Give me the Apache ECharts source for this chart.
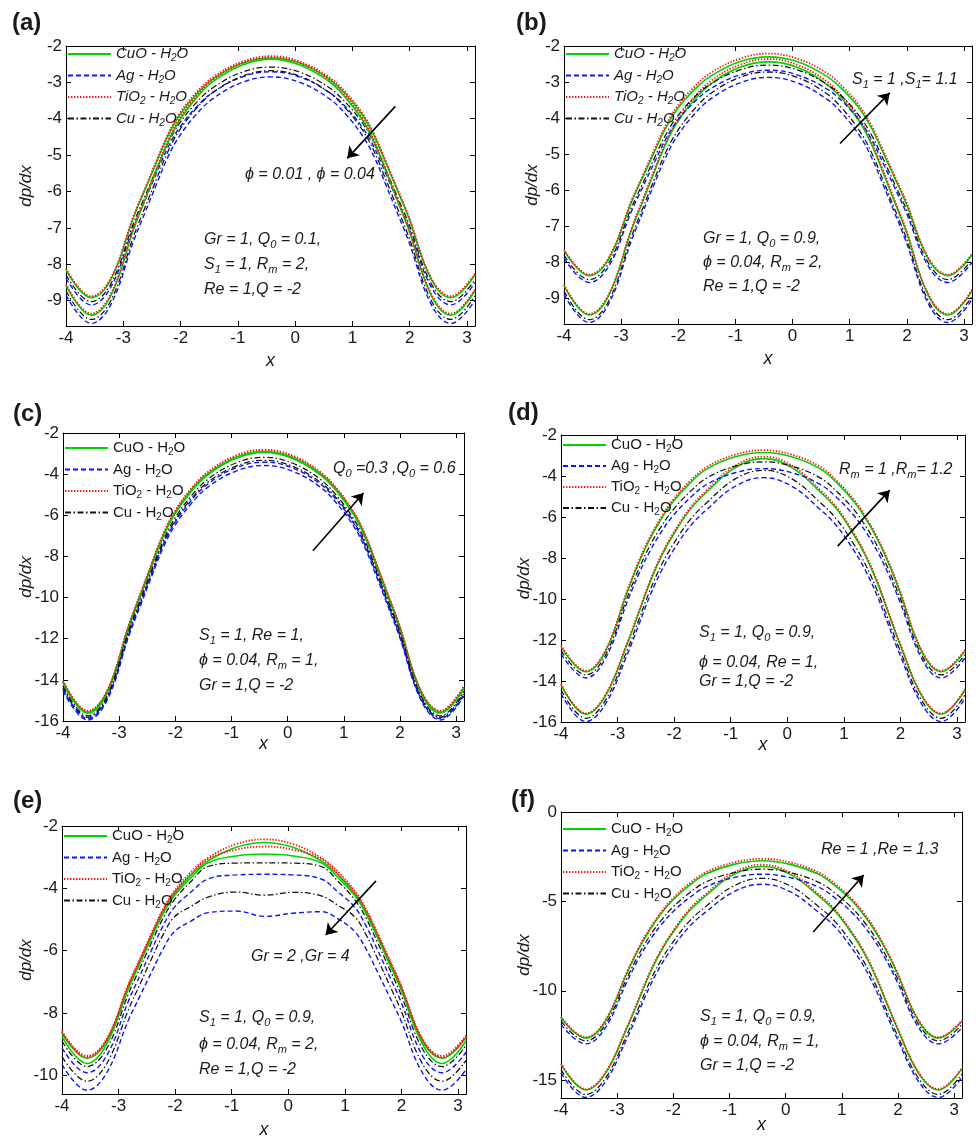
<!DOCTYPE html>
<html><head><meta charset="utf-8">
<script src="https://cdn.jsdelivr.net/npm/echarts@6/dist/echarts.min.js"></script>
<style>html,body{margin:0;padding:0;background:#fff}#c{width:976px;height:1140px}</style>
</head><body><div id="c"></div>
<script>
// ---------- x sample positions (shared by all panels) ----------
const xs = [-4, -3.56, -3.22, -2.82, -2.62, -2.42, -2.22, -2.02, -1.72, -1.42, -0.92, -0.42, 0.08, 0.58, 0.88, 1.18, 1.38, 1.58, 1.78, 1.98, 2.38, 2.72, 3.14];

// ---------- panel (a) ----------
const aCuO1  = [-8.16, -8.92, -8.43, -6.71, -5.95, -5.20, -4.47, -3.91, -3.32, -2.89, -2.47, -2.33, -2.47, -2.89, -3.32, -3.91, -4.47, -5.20, -5.95, -6.71, -8.43, -8.92, -8.29];
const aAg1   = [-8.38, -9.12, -8.64, -6.97, -6.24, -5.50, -4.79, -4.25, -3.67, -3.26, -2.85, -2.71, -2.85, -3.26, -3.67, -4.25, -4.79, -5.50, -6.24, -6.97, -8.64, -9.12, -8.51];
const aTiO21 = [-8.12, -8.88, -8.39, -6.67, -5.91, -5.15, -4.43, -3.86, -3.27, -2.84, -2.43, -2.28, -2.43, -2.84, -3.27, -3.86, -4.43, -5.15, -5.91, -6.67, -8.39, -8.88, -8.25];
const aCu1   = [-8.29, -9.03, -8.55, -6.87, -6.13, -5.39, -4.68, -4.13, -3.55, -3.13, -2.72, -2.58, -2.72, -3.13, -3.55, -4.13, -4.68, -5.39, -6.13, -6.87, -8.55, -9.03, -8.42];
const aCuO2  = [-8.59, -9.40, -8.87, -7.04, -6.23, -5.42, -4.65, -4.05, -3.42, -2.96, -2.52, -2.36, -2.52, -2.96, -3.42, -4.05, -4.65, -5.42, -6.23, -7.04, -8.87, -9.40, -8.73];
const aAg2   = [-8.85, -9.63, -9.12, -7.36, -6.58, -5.80, -5.05, -4.48, -3.87, -3.43, -3.00, -2.85, -3.00, -3.43, -3.87, -4.48, -5.05, -5.80, -6.58, -7.36, -9.12, -9.63, -8.99];
const aTiO22 = [-8.55, -9.36, -8.83, -7.00, -6.19, -5.38, -4.60, -4.00, -3.37, -2.91, -2.47, -2.31, -2.47, -2.91, -3.37, -4.00, -4.60, -5.38, -6.19, -7.00, -8.83, -9.36, -8.69];
const aCu2   = [-8.73, -9.52, -9.01, -7.23, -6.44, -5.66, -4.90, -4.32, -3.71, -3.26, -2.83, -2.68, -2.83, -3.26, -3.71, -4.32, -4.90, -5.66, -6.44, -7.23, -9.01, -9.52, -8.87];

// ---------- panel (b) ----------
const bCuO1  = [-8.64, -9.45, -8.92, -7.10, -6.30, -5.49, -4.72, -4.12, -3.49, -3.04, -2.59, -2.44, -2.59, -3.04, -3.49, -4.12, -4.72, -5.49, -6.30, -7.10, -8.92, -9.45, -8.78];
const bAg1   = [-8.88, -9.66, -9.15, -7.39, -6.60, -5.82, -5.08, -4.50, -3.89, -3.45, -3.02, -2.87, -3.02, -3.45, -3.89, -4.50, -5.08, -5.82, -6.60, -7.39, -9.15, -9.66, -9.02];
const bTiO21 = [-8.61, -9.42, -8.89, -7.06, -6.24, -5.43, -4.65, -4.05, -3.42, -2.96, -2.52, -2.36, -2.52, -2.96, -3.42, -4.05, -4.65, -5.43, -6.24, -7.06, -8.89, -9.42, -8.75];
const bCu1   = [-8.79, -9.58, -9.07, -7.28, -6.49, -5.70, -4.95, -4.37, -3.75, -3.30, -2.87, -2.72, -2.87, -3.30, -3.75, -4.37, -4.95, -5.70, -6.49, -7.28, -9.07, -9.58, -8.93];
const bCuO2  = [-7.66, -8.36, -7.91, -6.33, -5.63, -4.94, -4.27, -3.75, -3.21, -2.82, -2.43, -2.30, -2.43, -2.82, -3.21, -3.75, -4.27, -4.94, -5.63, -6.33, -7.91, -8.36, -7.78];
const bAg2   = [-7.87, -8.55, -8.11, -6.58, -5.90, -5.23, -4.58, -4.08, -3.55, -3.17, -2.80, -2.67, -2.80, -3.17, -3.55, -4.08, -4.58, -5.23, -5.90, -6.58, -8.11, -8.55, -7.99];
const bTiO22 = [-7.63, -8.33, -7.87, -6.28, -5.58, -4.87, -4.20, -3.68, -3.13, -2.73, -2.35, -2.21, -2.35, -2.73, -3.13, -3.68, -4.20, -4.87, -5.58, -6.28, -7.87, -8.33, -7.75];
const bCu2   = [-7.79, -8.47, -8.02, -6.48, -5.80, -5.11, -4.46, -3.96, -3.42, -3.04, -2.66, -2.53, -2.66, -3.04, -3.42, -3.96, -4.46, -5.11, -5.80, -6.48, -8.02, -8.47, -7.91];

// ---------- panel (c) ----------
const cCuO1  = [-14.16, -15.62, -14.67, -11.38, -9.92, -8.46, -7.07, -5.99, -4.85, -4.03, -3.23, -2.95, -3.23, -4.03, -4.85, -5.99, -7.07, -8.46, -9.92, -11.38, -14.67, -15.62, -14.42];
const cAg1   = [-14.53, -15.95, -15.02, -11.81, -10.38, -8.96, -7.60, -6.55, -5.44, -4.63, -3.85, -3.58, -3.85, -4.63, -5.44, -6.55, -7.60, -8.96, -10.38, -11.81, -15.02, -15.95, -14.78];
const cTiO21 = [-14.09, -15.55, -14.60, -11.31, -9.85, -8.39, -7.00, -5.92, -4.78, -3.96, -3.16, -2.88, -3.16, -3.96, -4.78, -5.92, -7.00, -8.39, -9.85, -11.31, -14.60, -15.55, -14.35];
const cCu1   = [-14.38, -15.82, -14.88, -11.64, -10.20, -8.76, -7.39, -6.33, -5.20, -4.39, -3.61, -3.33, -3.61, -4.39, -5.20, -6.33, -7.39, -8.76, -10.20, -11.64, -14.88, -15.82, -14.63];
const cCuO2  = [-14.11, -15.57, -14.62, -11.33, -9.87, -8.41, -7.02, -5.94, -4.80, -3.98, -3.18, -2.90, -3.18, -3.98, -4.80, -5.94, -7.02, -8.41, -9.87, -11.33, -14.62, -15.57, -14.37];
const cAg2   = [-14.45, -15.88, -14.95, -11.71, -10.27, -8.84, -7.47, -6.41, -5.29, -4.48, -3.69, -3.42, -3.69, -4.48, -5.29, -6.41, -7.47, -8.84, -10.27, -11.71, -14.95, -15.88, -14.70];
const cTiO22 = [-14.04, -15.50, -14.55, -11.25, -9.79, -8.33, -6.93, -5.86, -4.71, -3.89, -3.09, -2.81, -3.09, -3.89, -4.71, -5.86, -6.93, -8.33, -9.79, -11.25, -14.55, -15.50, -14.29];
const cCu2   = [-14.30, -15.75, -14.81, -11.54, -10.09, -8.65, -7.27, -6.20, -5.07, -4.25, -3.46, -3.18, -3.46, -4.25, -5.07, -6.20, -7.27, -8.65, -10.09, -11.54, -14.81, -15.75, -14.56];

// ---------- panel (d) ----------
const dCuO1  = [-14.19, -15.62, -14.75, -12.13, -10.63, -9.14, -7.89, -6.89, -5.64, -4.77, -3.59, -3.15, -3.59, -4.77, -5.64, -6.89, -7.89, -9.14, -10.63, -12.13, -14.75, -15.62, -14.44];
const dAg1   = [-14.61, -15.98, -15.15, -12.65, -11.22, -9.79, -8.60, -7.65, -6.46, -5.63, -4.50, -4.08, -4.50, -5.63, -6.46, -7.65, -8.60, -9.79, -11.22, -12.65, -15.15, -15.98, -14.85];
const dTiO21 = [-14.14, -15.58, -14.70, -12.07, -10.57, -9.06, -7.81, -6.81, -5.56, -4.68, -3.49, -3.05, -3.49, -4.68, -5.56, -6.81, -7.81, -9.06, -10.57, -12.07, -14.70, -15.58, -14.39];
const dCu1   = [-14.43, -15.82, -14.97, -12.43, -10.98, -9.53, -8.32, -7.35, -6.14, -5.29, -4.14, -3.72, -4.14, -5.29, -6.14, -7.35, -8.32, -9.53, -10.98, -12.43, -14.97, -15.82, -14.67];
const dCuO2  = [-12.32, -13.55, -12.59, -9.59, -8.20, -7.02, -6.06, -5.26, -4.35, -3.65, -3.06, -2.85, -3.06, -3.65, -4.35, -5.26, -6.06, -7.02, -8.20, -9.59, -12.59, -13.55, -12.53];
const dAg2   = [-12.68, -13.85, -12.93, -10.07, -8.75, -7.62, -6.70, -5.94, -5.07, -4.41, -3.84, -3.64, -3.84, -4.41, -5.07, -5.94, -6.70, -7.62, -8.75, -10.07, -12.93, -13.85, -12.88];
const dTiO22 = [-12.26, -13.50, -12.53, -9.52, -8.12, -6.94, -5.97, -5.16, -4.25, -3.55, -2.96, -2.74, -2.96, -3.55, -4.25, -5.16, -5.97, -6.94, -8.12, -9.52, -12.53, -13.50, -12.48];
const dCu2   = [-12.51, -13.70, -12.77, -9.86, -8.51, -7.36, -6.43, -5.65, -4.77, -4.09, -3.52, -3.31, -3.52, -4.09, -4.77, -5.65, -6.43, -7.36, -8.51, -9.86, -12.77, -13.70, -12.71];

// ---------- panel (e) ----------
const eCuO1  = [-8.65, -9.45, -8.93, -7.13, -6.34, -5.54, -4.78, -4.19, -3.57, -3.12, -2.68, -2.53, -2.68, -3.12, -3.57, -4.19, -4.78, -5.54, -6.34, -7.13, -8.93, -9.45, -8.79];
const eAg1   = [-9.12, -9.92, -9.40, -7.59, -6.79, -5.99, -5.23, -4.62, -4.12, -3.70, -3.57, -3.55, -3.57, -3.70, -4.12, -4.62, -5.23, -5.99, -6.79, -7.59, -9.40, -9.92, -9.26];
const eTiO21 = [-8.58, -9.38, -8.86, -7.05, -6.25, -5.45, -4.69, -4.10, -3.47, -3.02, -2.58, -2.43, -2.58, -3.02, -3.47, -4.10, -4.69, -5.45, -6.25, -7.05, -8.86, -9.38, -8.72];
const eCu1   = [-8.90, -9.72, -9.18, -7.36, -6.55, -5.75, -4.98, -4.38, -3.78, -3.30, -3.19, -3.18, -3.19, -3.30, -3.78, -4.38, -4.98, -5.75, -6.55, -7.36, -9.18, -9.72, -9.04];
const eCuO2  = [-8.76, -9.62, -9.03, -7.20, -6.40, -5.60, -4.84, -4.25, -3.66, -3.18, -2.96, -2.90, -2.96, -3.18, -3.66, -4.25, -4.84, -5.60, -6.40, -7.20, -9.03, -9.62, -8.90];
const eAg2   = [-9.65, -10.48, -9.95, -8.20, -7.45, -6.70, -5.97, -5.40, -5.05, -4.78, -4.73, -4.90, -4.80, -4.75, -4.98, -5.40, -5.97, -6.70, -7.45, -8.20, -9.95, -10.48, -9.82];
const eTiO22 = [-8.62, -9.43, -8.90, -7.10, -6.30, -5.50, -4.74, -4.15, -3.55, -3.06, -2.76, -2.66, -2.76, -3.06, -3.55, -4.15, -4.74, -5.50, -6.30, -7.10, -8.90, -9.43, -8.76];
const eCu2   = [-9.40, -10.19, -9.66, -7.87, -7.07, -6.27, -5.51, -4.93, -4.58, -4.28, -4.12, -4.22, -4.13, -4.24, -4.55, -4.93, -5.51, -6.27, -7.07, -7.87, -9.66, -10.19, -9.52];

// ---------- panel (f) ----------
const fCuO1  = [-14.11, -15.55, -14.68, -12.05, -10.55, -9.05, -7.80, -6.80, -5.55, -4.68, -3.49, -3.05, -3.49, -4.68, -5.55, -6.80, -7.80, -9.05, -10.55, -12.05, -14.68, -15.55, -14.36];
const fAg1   = [-14.60, -15.97, -15.14, -12.63, -11.20, -9.77, -8.57, -7.62, -6.43, -5.59, -4.46, -4.04, -4.46, -5.59, -6.43, -7.62, -8.57, -9.77, -11.20, -12.63, -15.14, -15.97, -14.84];
const fTiO21 = [-14.06, -15.50, -14.62, -11.99, -10.48, -8.97, -7.72, -6.72, -5.46, -4.58, -3.39, -2.95, -3.39, -4.58, -5.46, -6.72, -7.72, -8.97, -10.48, -11.99, -14.62, -15.50, -14.31];
const fCu1   = [-14.41, -15.80, -14.95, -12.42, -10.96, -9.51, -8.30, -7.34, -6.13, -5.28, -4.13, -3.71, -4.13, -5.28, -6.13, -7.34, -8.30, -9.51, -10.96, -12.42, -14.95, -15.80, -14.65];
const fCuO2  = [-11.51, -12.65, -11.76, -8.98, -7.69, -6.60, -5.71, -4.96, -4.12, -3.47, -2.93, -2.73, -2.93, -3.47, -4.12, -4.96, -5.71, -6.60, -7.69, -8.98, -11.76, -12.65, -11.71];
const fAg2   = [-11.88, -12.97, -12.12, -9.46, -8.23, -7.18, -6.33, -5.62, -4.81, -4.19, -3.67, -3.48, -3.67, -4.19, -4.81, -5.62, -6.33, -7.18, -8.23, -9.46, -12.12, -12.97, -12.07];
const fTiO22 = [-11.45, -12.60, -11.70, -8.91, -7.61, -6.51, -5.61, -4.87, -4.02, -3.37, -2.82, -2.62, -2.82, -3.37, -4.02, -4.87, -5.61, -6.51, -7.61, -8.91, -11.70, -12.60, -11.65];
const fCu2   = [-11.70, -12.80, -11.94, -9.25, -8.00, -6.94, -6.08, -5.36, -4.54, -3.92, -3.39, -3.20, -3.39, -3.92, -4.54, -5.36, -6.08, -6.94, -8.00, -9.25, -11.94, -12.80, -11.89];

// ---------- ticks ----------
const xTicks  = [-4, -3, -2, -1, 0, 1, 2, 3];
const yTicksA = [-9, -8, -7, -6, -5, -4, -3, -2];
const yTicksB = [-9, -8, -7, -6, -5, -4, -3, -2];
const yTicksC = [-16, -14, -12, -10, -8, -6, -4, -2];
const yTicksD = [-16, -14, -12, -10, -8, -6, -4, -2];
const yTicksE = [-10, -8, -6, -4, -2];
const yTicksF = [-15, -10, -5, 0];

// ---------- arrows (data coordinates) ----------
const arrowA = [[1.75, -3.66], [0.91, -5.09]];
const arrowB = [[0.83, -4.70], [1.70, -3.30]];
const arrowC = [[0.45, -7.72], [1.35, -4.92]];
const arrowD = [[0.89, -7.42], [1.81, -4.69]];
const arrowE = [[1.55, -3.76], [0.66, -5.50]];
const arrowF = [[0.49, -6.71], [1.39, -3.52]];

const fluids = ['CuO - H2O', 'Ag - H2O', 'TiO2 - H2O', 'Cu - H2O'];
const FONT = '"Liberation Sans", Arial, Helvetica, sans-serif';
const TXT = '#1a1a1a';
const lineStyles = {
  'CuO - H2O':  {color: '#00d400', type: 'solid', width: 1.6},
  'Ag - H2O':   {color: '#0a14ff', type: [5, 3], width: 1.4},
  'TiO2 - H2O': {color: '#ff1414', type: [1.4, 1.6], width: 1.8},
  'Cu - H2O':   {color: '#111111', type: [6, 2.5, 1.5, 2.5], width: 1.25}
};

const panels = [
  {label: '(a)', lab: [12, 23], grid: {left: 66, top: 46, width: 409, height: 280}, ymin: -9.7, ymax: -2, yTicks: yTicksA,
   sets: [aCuO1, aAg1, aTiO21, aCu1, aCuO2, aAg2, aTiO22, aCu2], arrow: arrowA, italic: true, leg: [67, 44, 1.5], xGap: 26, yGap: 31,
   main: [245, 175, 'ϕ = 0.01 , ϕ = 0.04'], px: 204, params: [[240, 'Gr = 1, Q{s|0} = 0.1,'], [265, 'S{s|1} = 1, R{s|m} = 2,'], [290, 'Re = 1,Q = -2']]},
  {label: '(b)', lab: [516, 23], grid: {left: 564, top: 46, width: 408, height: 278}, ymin: -9.7, ymax: -2, yTicks: yTicksB,
   sets: [bCuO1, bAg1, bTiO21, bCu1, bCuO2, bAg2, bTiO22, bCu2], arrow: arrowB, italic: true, leg: [565, 44, 1.5], xGap: 26, yGap: 23,
   main: [852, 80, 'S{s|1} = 1 ,S{s|1}= 1.1'], px: 703, params: [[239, 'Gr = 1, Q{s|0} = 0.9,'], [263, 'ϕ = 0.04, R{s|m} = 2,'], [287, 'Re = 1,Q = -2']]},
  {label: '(c)', lab: [13, 414], grid: {left: 63, top: 433, width: 401, height: 288}, ymin: -16, ymax: -2, yTicks: yTicksC,
   sets: [cCuO1, cAg1, cTiO21, cCu1, cCuO2, cAg2, cTiO22, cCu2], arrow: arrowC, italic: false, leg: [64, 438, 1.5], xGap: 14, yGap: 28,
   main: [333, 469, 'Q{s|0} =0.3 ,Q{s|0} = 0.6'], px: 199, params: [[636, 'S{s|1} = 1, Re = 1,'], [661, 'ϕ = 0.04, R{s|m} = 1,'], [686, 'Gr = 1,Q = -2']]},
  {label: '(d)', lab: [508, 413], grid: {left: 561, top: 435, width: 404, height: 287}, ymin: -16, ymax: -2, yTicks: yTicksD,
   sets: [dCuO1, dAg1, dTiO21, dCu1, dCuO2, dAg2, dTiO22, dCu2], arrow: arrowD, italic: false, leg: [562, 435, 1], xGap: 14, yGap: 28,
   main: [839, 470, 'R{s|m} = 1 ,R{s|m}= 1.2'], px: 699, params: [[633, 'S{s|1} = 1, Q{s|0} = 0.9,'], [663, 'ϕ = 0.04, Re = 1,'], [682, 'Gr = 1,Q = -2']]},
  {label: '(e)', lab: [13, 801], grid: {left: 62, top: 826, width: 404, height: 273}, ymin: -10.6, ymax: -2, yTicks: yTicksE,
   sets: [eCuO1, eAg1, eTiO21, eCu1, eCuO2, eAg2, eTiO22, eCu2], arrow: arrowE, italic: false, leg: [63, 826, 1.5], xGap: 27, yGap: 27,
   main: [251, 957, 'Gr = 2 ,Gr = 4'], px: 199, params: [[1018, 'S{s|1} = 1, Q{s|0} = 0.9,'], [1045, 'ϕ = 0.04, R{s|m} = 2,'], [1070, 'Re = 1,Q = -2']]},
  {label: '(f)', lab: [511, 800], grid: {left: 561, top: 812, width: 401, height: 286}, ymin: -16, ymax: 0, yTicks: yTicksF,
   sets: [fCuO1, fAg1, fTiO21, fCu1, fCuO2, fAg2, fTiO22, fCu2], arrow: arrowF, italic: false, leg: [562, 819, 1.5], xGap: 18, yGap: 28,
   main: [821, 850, 'Re = 1 ,Re = 1.3'], px: 700, params: [[1017, 'S{s|1} = 1, Q{s|0} = 0.9,'], [1042, 'ϕ = 0.04, R{s|m} = 1,'], [1066, 'Gr = 1,Q = -2']]}
];

function txt(x, y, text, o) {
  o = o || {};
  const fs = o.fontSize || 16;
  const it = o.italic === false ? 'normal' : 'italic';
  const pad = Math.round(fs * 0.62);
  return {type: 'text', x: x, y: y, z: 100, silent: true, style: {
    text: text, fontSize: fs, fontFamily: FONT, fontStyle: it, fontWeight: o.bold ? 'bold' : 'normal',
    fill: TXT, align: 'left', verticalAlign: 'middle', lineHeight: fs + 6,
    rich: {s: {fontSize: Math.round(fs * 0.68), fontFamily: FONT, fontStyle: it, fill: TXT, padding: [pad, 0, 0, 0]}}
  }};
}

const axisBase = {
  type: 'value', splitLine: {show: false}, nameMoveOverlap: false,
  axisLine: {show: true, onZero: false, lineStyle: {color: '#000', width: 1}}
};
const tickBase = {show: true, inside: true, length: 5, lineStyle: {color: '#000', width: 1}};
const labBase = {fontSize: 17, fontFamily: FONT, color: TXT, margin: 4};

const grid = [], xAxis = [], yAxis = [], series = [], legend = [], graphic = [];
panels.forEach(function (p, i) {
  grid.push(Object.assign({containLabel: false}, p.grid));
  xAxis.push(Object.assign({}, axisBase, {gridIndex: i, position: 'bottom', min: -4, max: 3.14,
    axisTick: Object.assign({}, tickBase, {customValues: xTicks}),
    axisLabel: Object.assign({}, labBase, {customValues: xTicks}),
    name: 'x', nameLocation: 'middle', nameGap: p.xGap,
    nameTextStyle: {fontStyle: 'italic', fontSize: 18, fontFamily: FONT, color: TXT}}));
  xAxis.push(Object.assign({}, axisBase, {gridIndex: i, position: 'top', min: -4, max: 3.14,
    axisTick: Object.assign({}, tickBase, {customValues: xTicks}), axisLabel: {show: false}}));
  yAxis.push(Object.assign({}, axisBase, {gridIndex: i, position: 'left', min: p.ymin, max: p.ymax,
    axisTick: Object.assign({}, tickBase, {customValues: p.yTicks}),
    axisLabel: Object.assign({}, labBase, {customValues: p.yTicks}),
    name: 'dp/dx', nameLocation: 'middle', nameGap: p.yGap,
    nameTextStyle: {fontStyle: 'italic', fontSize: 17, fontFamily: FONT, color: TXT}}));
  yAxis.push(Object.assign({}, axisBase, {gridIndex: i, position: 'right', min: p.ymin, max: p.ymax,
    axisTick: Object.assign({}, tickBase, {customValues: p.yTicks}), axisLabel: {show: false}}));

  p.sets.forEach(function (arr, k) {
    const name = fluids[k % 4];
    const s = {
      type: 'line', name: name, xAxisIndex: 2 * i, yAxisIndex: 2 * i,
      data: xs.map(function (x, j) { return [x, arr[j]]; }),
      symbol: 'none', smooth: 0.4, silent: true, animation: false, z: 2,
      lineStyle: Object.assign({}, lineStyles[name]), itemStyle: {color: lineStyles[name].color}
    };
    if (k === 0) {
      s.markLine = {silent: true, animation: false, symbol: ['none', 'arrow'], symbolSize: 11,
        label: {show: false}, lineStyle: {color: '#000', width: 1.6, type: 'solid'},
        data: [[{coord: p.arrow[0]}, {coord: p.arrow[1]}]]};
    }
    series.push(s);
  });

  const fst = p.italic ? 'italic' : 'normal';
  legend.push({data: fluids, orient: 'vertical', left: p.leg[0], top: p.leg[1], itemGap: p.leg[2],
    itemWidth: 43, itemHeight: 14, padding: 0, selectedMode: false,
    itemStyle: {opacity: 0, borderWidth: 0},
    formatter: function (n) { return n.replace('TiO2', 'TiO{s|2}').replace('H2O', 'H{s|2}O'); },
    textStyle: {fontSize: 15, fontFamily: FONT, fontStyle: fst, color: TXT, lineHeight: 20,
      rich: {s: {fontSize: 10, fontFamily: FONT, fontStyle: fst, color: TXT, padding: [9, 0, 0, 0]}}}});

  graphic.push(txt(p.lab[0], p.lab[1], p.label, {fontSize: 24, bold: true, italic: false}));
  graphic.push(txt(p.main[0], p.main[1], p.main[2], {fontSize: 16}));
  p.params.forEach(function (q) { graphic.push(txt(p.px, q[0], q[1], {fontSize: 16})); });
});

const chart = echarts.init(document.getElementById('c'), null, {renderer: 'canvas'});
chart.setOption({backgroundColor: '#fff', animation: false, grid: grid, xAxis: xAxis, yAxis: yAxis,
  series: series, legend: legend, graphic: graphic});
</script></body></html>
